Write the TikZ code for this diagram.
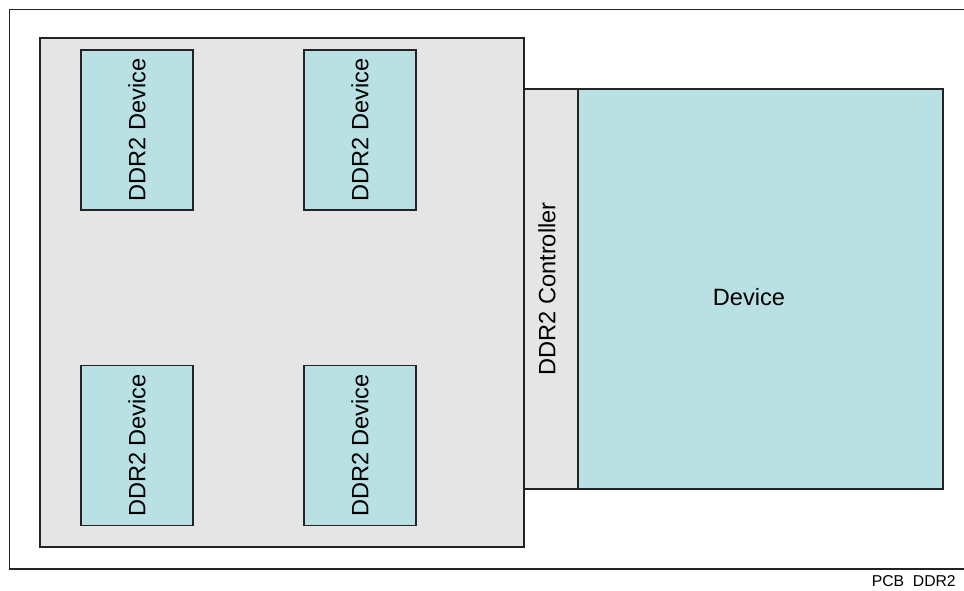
\documentclass[tikz,border=0pt]{standalone}
\usepackage{fontspec}
\setmainfont{Liberation Sans}
\definecolor{pcbgray}{RGB}{229,229,229}
\definecolor{chipcyan}{RGB}{185,225,227}
\definecolor{edgecol}{RGB}{35,35,35}
\begin{document}
\begin{tikzpicture}[x=0.75pt,y=-0.75pt,
  box/.style={draw=edgecol,line width=1pt,inner sep=0pt,outer sep=0pt},
  chip/.style={box,fill=chipcyan,rotate=90,minimum width=120pt,minimum height=84pt,font=\fontsize{17.7pt}{20pt}\selectfont},
  lbl/.style={inner sep=0pt,font=\fontsize{17.7pt}{20pt}\selectfont}]
\useasboundingbox (0,0) rectangle (964,590);
% outer PCB frame (open at right)
\draw[edgecol,line width=1pt] (964,9.5) -- (9.5,9.5) -- (9.5,569) -- (964,569);
% board
\node[box,fill=pcbgray,minimum width=363pt,minimum height=381.75pt] (board) at (282,292.5) {};
% DDR2 devices
\node[chip] (d1) at (137,130) {DDR2 Device};
\node[chip] (d2) at (360,130) {DDR2 Device};
\node[chip] (d3) at (137,445.5) {DDR2 Device};
\node[chip] (d4) at (360,445.5) {DDR2 Device};
% controller and device
\node[box,fill=pcbgray,minimum width=40.5pt,minimum height=300pt] (ctrl) at (551,289) {};
\node[lbl,rotate=90] (ctrllbl) at (547,289) {DDR2 Controller};
\node[box,fill=chipcyan,minimum width=273.75pt,minimum height=300pt] (dev) at (760.5,289) {};
\node[lbl] (devlbl) at (749,297) {Device};
% caption
\node[inner sep=0pt,anchor=east,font=\fontsize{11.8pt}{13pt}\selectfont] (cap) at (956,581) {PCB\ \ DDR2};
\end{tikzpicture}
\end{document}
